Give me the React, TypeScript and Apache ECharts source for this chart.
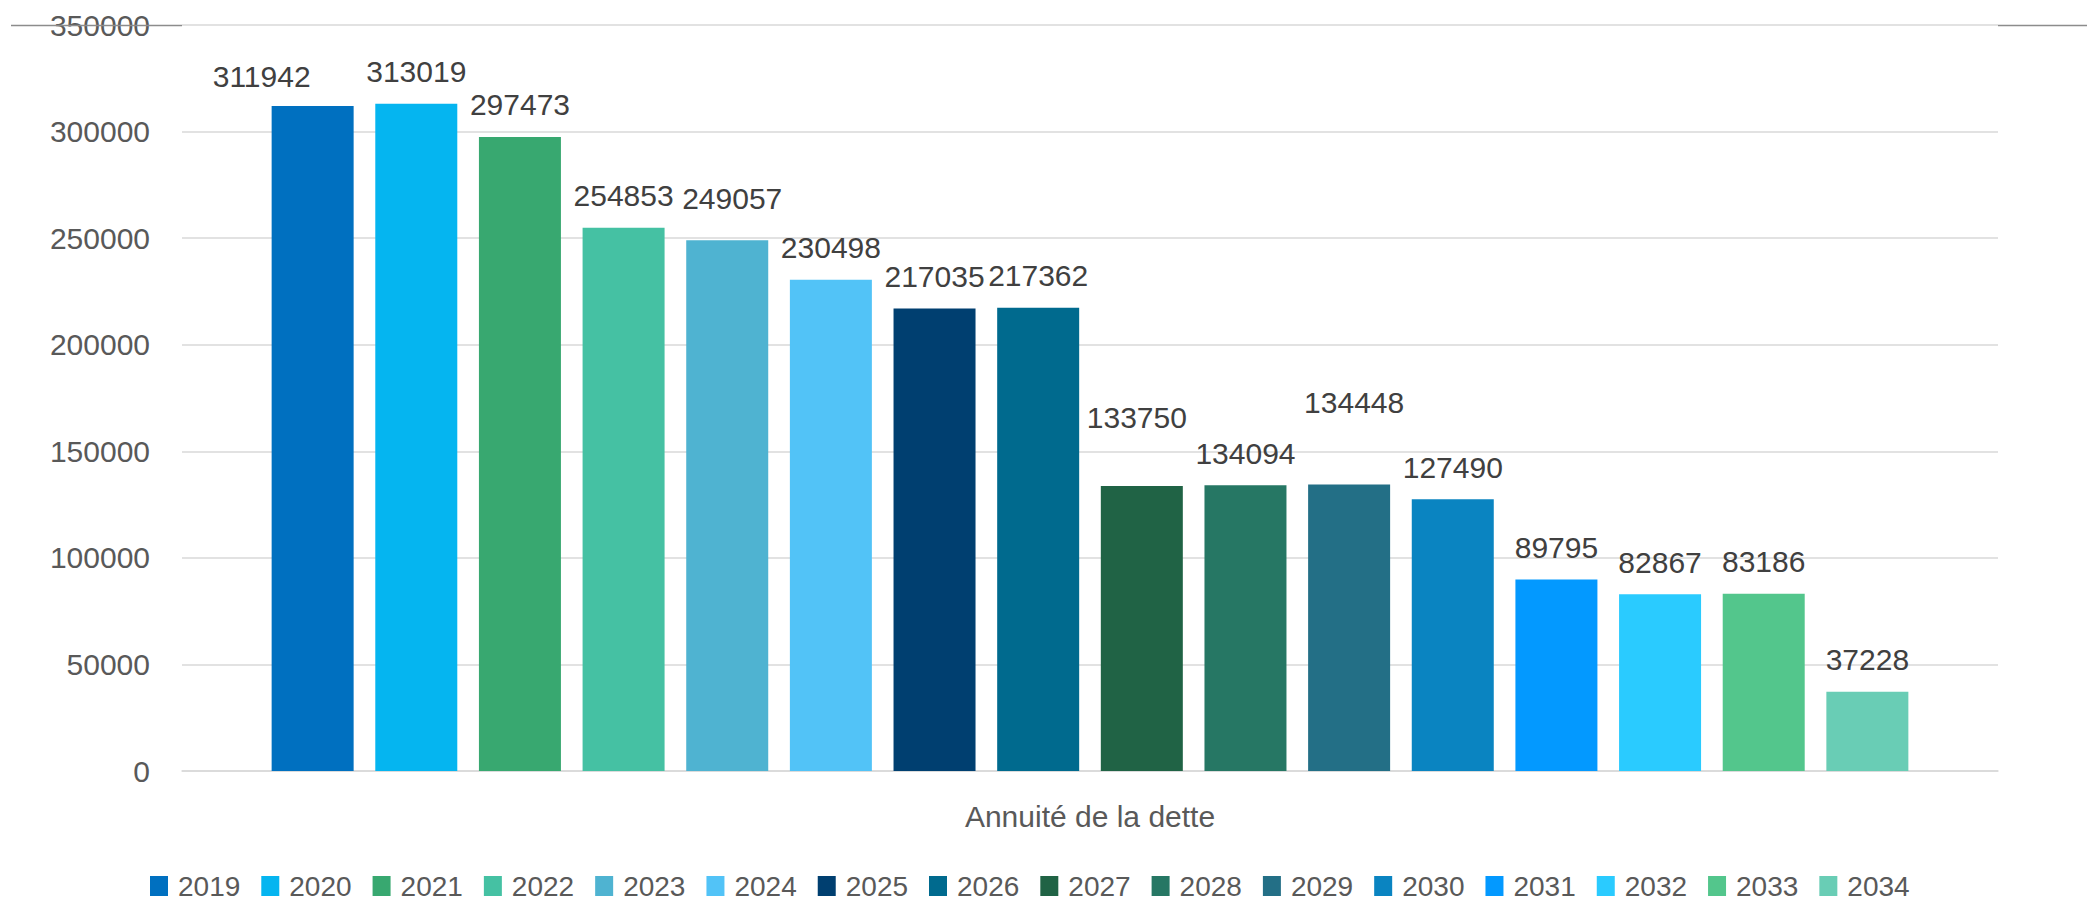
import React, { useEffect, useRef } from "react";
import * as echarts from "echarts";

const categories = ["Annuité de la dette"];
const years = ["2019","2020","2021","2022","2023","2024","2025","2026","2027","2028","2029","2030","2031","2032","2033","2034"];
const values = [311942,313019,297473,254853,249057,230498,217035,217362,133750,134094,134448,127490,89795,82867,83186,37228];
const yTicks = { min: 0, max: 350000, interval: 50000 };

const colors = ["#0070C0","#05B5F0","#38A870","#45C1A3","#4FB3D1","#52C3F7","#003F70","#006A8E","#206345","#267764","#236F86","#0A84C1","#0399FF","#2ACBFF","#53C68C","#69CDB5"];
// label nudges (dx, dy) as hand-placed in the reference
const labelNudges: [number, number][] = [[-51,2],[0,0],[0,0],[0,0],[5,-10],[0,0],[0,0],[0,0],[-5,-36],[0,0],[5,-50],[0,0],[0,0],[0,0],[0,0],[0,0]];

const FONT = "'Liberation Sans', Arial, sans-serif";

export default function App() {
  const ref = useRef<HTMLDivElement>(null);
  useEffect(() => {
    if (!ref.current) return;
    const chart = echarts.init(ref.current, null, { renderer: "svg" });
    chart.setOption({
      animation: false,
      textStyle: { fontFamily: FONT },
      grid: { left: 182, right: 89, top: 25, bottom: 129, containLabel: false },
      legend: {
        left: 150,
        top: 872,
        padding: 0,
        itemWidth: 18,
        itemHeight: 20,
        itemGap: 21,
        icon: "rect",
        textStyle: { fontSize: 28, lineHeight: 26, color: "#595959", fontFamily: FONT, padding: [0, 0, 0, 5] },
        data: years,
      },
      xAxis: {
        type: "category",
        data: categories,
        axisLine: { show: true, lineStyle: { color: "#d9d9d9", width: 1.5 } },
        axisTick: { show: false },
        axisLabel: { fontSize: 30, color: "#595959", margin: 30, fontFamily: FONT },
      },
      yAxis: {
        type: "value",
        min: yTicks.min,
        max: yTicks.max,
        interval: yTicks.interval,
        axisLine: { show: false },
        axisTick: { show: false },
        splitLine: { lineStyle: { color: "#d9d9d9", width: 1.5 } },
        axisLabel: { fontSize: 30, color: "#595959", margin: 32, fontFamily: FONT, formatter: (v: number) => String(v) },
      },
      graphic: [
        { type: "line", shape: { x1: 11, y1: 25.5, x2: 182, y2: 25.5 }, style: { stroke: "#8c8c8c", lineWidth: 1.5 }, z: 10 },
        { type: "line", shape: { x1: 1998, y1: 25.5, x2: 2087, y2: 25.5 }, style: { stroke: "#8c8c8c", lineWidth: 1.5 }, z: 10 },
      ],
      series: years.map((y, i) => ({
        type: "bar",
        name: y,
        data: [values[i]],
        barWidth: 82,
        barGap: "26.4%",
        itemStyle: { color: colors[i] },
        label: {
          show: true,
          position: "top",
          distance: 17,
          offset: labelNudges[i],
          fontSize: 30,
          color: "#404040",
          fontFamily: FONT,
        },
      })),
    });
    return () => chart.dispose();
  }, []);
  return <div ref={ref} style={{ position: "fixed", left: 0, top: 0, width: 2087, height: 900, background: "#fff" }} />;
}
